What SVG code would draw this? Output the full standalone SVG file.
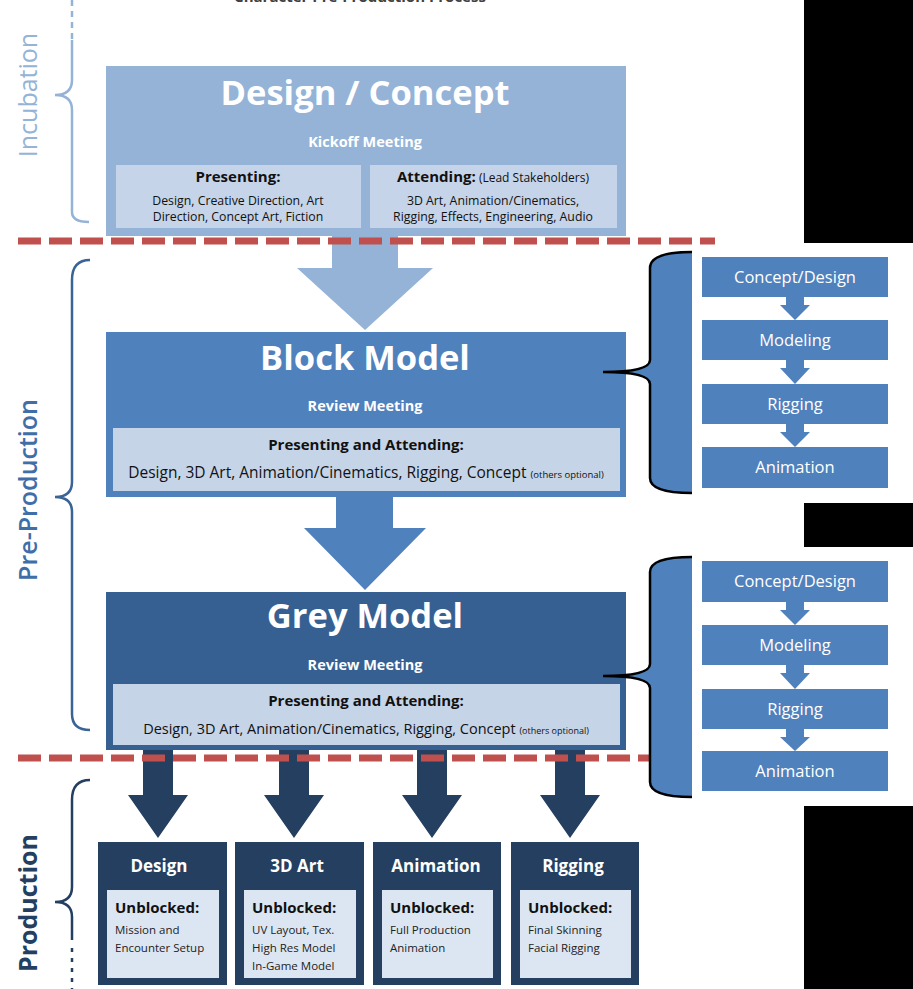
<svg xmlns="http://www.w3.org/2000/svg" width="913" height="989" viewBox="0 0 913 989">
<style>
text{font-family:"Open Sans","Liberation Sans",sans-serif}
.t{fill:#fff;font-weight:bold;text-anchor:middle}
.d{fill:#111;text-anchor:middle}
.b{font-weight:bold}
.sb{fill:#4f81bd}
.st{fill:#fff;font-size:16.5px;text-anchor:middle}
.dash{stroke:#c0504d;stroke-width:7;stroke-dasharray:23 8;fill:none}
.brace{fill:none;stroke-width:2.5}
.ub{font-size:15px;fill:#111;font-weight:bold}
.ul{font-size:11.5px;fill:#222}
</style>
<rect width="913" height="989" fill="#fff"/>
<rect x="804" y="0" width="109" height="243" fill="#000"/>
<rect x="804" y="503" width="109" height="44" fill="#000"/>
<rect x="804" y="806" width="109" height="183" fill="#000"/>
<text x="360" y="2" class="d b" style="font-size:15px;fill:#404040">Character Pre-Production Process</text>

<g id="phase-labels">
<text transform="translate(37,95) rotate(-90)" style="font-size:25px;fill:#95b3d7;text-anchor:middle">Incubation</text>
<path class="brace" stroke="#95b3d7" d="M72,0 V40" stroke-dasharray="6 5"/>
<path class="brace" stroke="#95b3d7" d="M72,40 V80 Q72,95 55,95 Q72,95 72,110 V212 Q72,222 89,222"/>
<text transform="translate(37,490) rotate(-90)" style="font-size:25px;fill:#3f6ea8;text-anchor:middle;font-weight:600">Pre-Production</text>
<path class="brace" stroke="#3a6496" d="M90,260 Q72,260 72,280 V482 Q72,497 55,497 Q72,497 72,512 V714 Q72,730 90,730"/>
<text transform="translate(37,903) rotate(-90)" style="font-size:25px;fill:#243f60;text-anchor:middle;font-weight:bold">Production</text>
<path class="brace" stroke="#243f60" d="M90,780 Q72,780 72,800 V887 Q72,902 55,902 Q72,902 72,917 V940"/>
<path class="brace" stroke="#243f60" stroke-width="3" d="M72,948 V989" stroke-dasharray="4 6"/>
</g>

<g id="connectors">
<polygon fill="#95b3d7" points="332,236 398,236 398,268 433,268 365,330 297,268 332,268"/>
<polygon fill="#4f81bd" points="336,497 393,497 393,528 426,528 365,590 304,528 336,528"/>
<g fill="#243f60">
<polygon points="143,750 173,750 173,795 188,795 158,838 128,795 143,795"/>
<polygon points="279,750 309,750 309,795 324,795 294,838 264,795 279,795"/>
<polygon points="417,750 447,750 447,795 462,795 432,838 402,795 417,795"/>
<polygon points="555,750 585,750 585,795 600,795 570,838 540,795 555,795"/>
</g>
<g class="sb">
<polygon points="786,297 804,297 804,305 810,305 795,320 780,305 786,305"/>
<polygon points="786,360 804,360 804,368 810,368 795,384 780,368 786,368"/>
<polygon points="786,424 804,424 804,432 810,432 795,447 780,432 786,432"/>
<polygon points="786,602 804,602 804,610 810,610 795,625 780,610 786,610"/>
<polygon points="786,665 804,665 804,673 810,673 795,689 780,673 786,673"/>
<polygon points="786,729 804,729 804,737 810,737 795,751 780,737 786,737"/>
</g>
</g>

<g id="design-concept">
<rect x="106" y="66" width="520" height="170" fill="#95b3d7"/>
<text x="365" y="105" class="t" style="font-size:34.5px">Design / Concept</text>
<text x="365" y="147" class="t" style="font-size:14.5px">Kickoff Meeting</text>
<rect x="116" y="165" width="245" height="63" fill="#c5d4e8"/>
<rect x="370" y="165" width="247" height="63" fill="#c5d4e8"/>
<text x="238" y="182" class="d b" style="font-size:15px">Presenting:</text>
<text x="238" y="205" class="d" style="font-size:12.3px">Design, Creative Direction, Art</text>
<text x="238" y="221" class="d" style="font-size:12.3px">Direction, Concept Art, Fiction</text>
<text x="493" y="182" class="d" style="font-size:15px"><tspan class="b">Attending:</tspan><tspan style="font-size:12px"> (Lead Stakeholders)</tspan></text>
<text x="493" y="205" class="d" style="font-size:12.3px">3D Art, Animation/Cinematics,</text>
<text x="493" y="221" class="d" style="font-size:12.3px">Rigging, Effects, Engineering, Audio</text>
</g>

<g id="block-model">
<rect x="106" y="332" width="520" height="165" fill="#4f81bd"/>
<text x="365" y="370" class="t" style="font-size:34.5px">Block Model</text>
<text x="365" y="411" class="t" style="font-size:14.5px">Review Meeting</text>
<rect x="113" y="428" width="507" height="63" fill="#c6d4e8"/>
<text x="366" y="450" class="d b" style="font-size:15px">Presenting and Attending:</text>
<text x="366" y="478" class="d" style="font-size:15.5px">Design, 3D Art, Animation/Cinematics, Rigging, Concept <tspan style="font-size:9.5px">(others optional)</tspan></text>
</g>

<g id="grey-model">
<rect x="106" y="592" width="520" height="158" fill="#366092"/>
<text x="365" y="628" class="t" style="font-size:34.5px">Grey Model</text>
<text x="365" y="670" class="t" style="font-size:14.5px">Review Meeting</text>
<rect x="113" y="684" width="507" height="61" fill="#c6d4e8"/>
<text x="366" y="706" class="d b" style="font-size:15px">Presenting and Attending:</text>
<text x="366" y="734" class="d" style="font-size:14.5px">Design, 3D Art, Animation/Cinematics, Rigging, Concept <tspan style="font-size:9px">(others optional)</tspan></text>
</g>

<g id="phase-lines">
<line class="dash" x1="18" y1="241" x2="715" y2="241"/>
<line class="dash" x1="18" y1="758" x2="650" y2="758"/>
</g>

<g id="pipeline-1">
<path class="sb" d="M692,252 Q650,252 650,268 V360 Q650,372 606,372 Q650,372 650,384 V478 Q650,493 692,493 Z"/>
<path class="brace" stroke="#000" d="M692,252 Q650,252 650,268 V360 Q650,372 603,372 Q650,372 650,384 V478 Q650,493 692,493"/>
<rect x="702" y="257" width="186" height="40" class="sb"/>
<text x="795" y="283" class="st">Concept/Design</text>
<rect x="702" y="320" width="186" height="40" class="sb"/>
<text x="795" y="346" class="st">Modeling</text>
<rect x="702" y="384" width="186" height="40" class="sb"/>
<text x="795" y="410" class="st">Rigging</text>
<rect x="702" y="447" width="186" height="41" class="sb"/>
<text x="795" y="473" class="st">Animation</text>
</g>

<g id="pipeline-2">
<path class="sb" d="M692,557 Q650,557 650,572 V664 Q650,676 606,676 Q650,676 650,688 V782 Q650,797 692,797 Z"/>
<path class="brace" stroke="#000" d="M692,557 Q650,557 650,572 V664 Q650,676 603,676 Q650,676 650,688 V782 Q650,797 692,797"/>
<rect x="702" y="561" width="186" height="41" class="sb"/>
<text x="795" y="587" class="st">Concept/Design</text>
<rect x="702" y="625" width="186" height="40" class="sb"/>
<text x="795" y="651" class="st">Modeling</text>
<rect x="702" y="689" width="186" height="40" class="sb"/>
<text x="795" y="715" class="st">Rigging</text>
<rect x="702" y="751" width="186" height="40" class="sb"/>
<text x="795" y="777" class="st">Animation</text>
</g>

<g id="prod-design">
<rect x="98" y="842" width="129" height="143" fill="#243f60"/>
<text x="159" y="872" class="t" style="font-size:17px">Design</text>
<rect x="107" y="890" width="112" height="88" fill="#dce6f2"/>
<text x="115" y="913" class="ub">Unblocked:</text>
<text x="115" y="934" class="ul">Mission and</text>
<text x="115" y="952" class="ul">Encounter Setup</text>
</g>
<g id="prod-3dart">
<rect x="235" y="842" width="129" height="143" fill="#243f60"/>
<text x="297" y="872" class="t" style="font-size:17px">3D Art</text>
<rect x="244" y="890" width="112" height="88" fill="#dce6f2"/>
<text x="252" y="913" class="ub">Unblocked:</text>
<text x="252" y="934" class="ul">UV Layout, Tex.</text>
<text x="252" y="952" class="ul">High Res Model</text>
<text x="252" y="970" class="ul">In-Game Model</text>
</g>
<g id="prod-animation">
<rect x="373" y="842" width="128" height="143" fill="#243f60"/>
<text x="436" y="872" class="t" style="font-size:17px">Animation</text>
<rect x="382" y="890" width="111" height="88" fill="#dce6f2"/>
<text x="390" y="913" class="ub">Unblocked:</text>
<text x="390" y="934" class="ul">Full Production</text>
<text x="390" y="952" class="ul">Animation</text>
</g>
<g id="prod-rigging">
<rect x="511" y="842" width="128" height="143" fill="#243f60"/>
<text x="573" y="872" class="t" style="font-size:17px">Rigging</text>
<rect x="520" y="890" width="111" height="88" fill="#dce6f2"/>
<text x="528" y="913" class="ub">Unblocked:</text>
<text x="528" y="934" class="ul">Final Skinning</text>
<text x="528" y="952" class="ul">Facial Rigging</text>
</g>
</svg>
